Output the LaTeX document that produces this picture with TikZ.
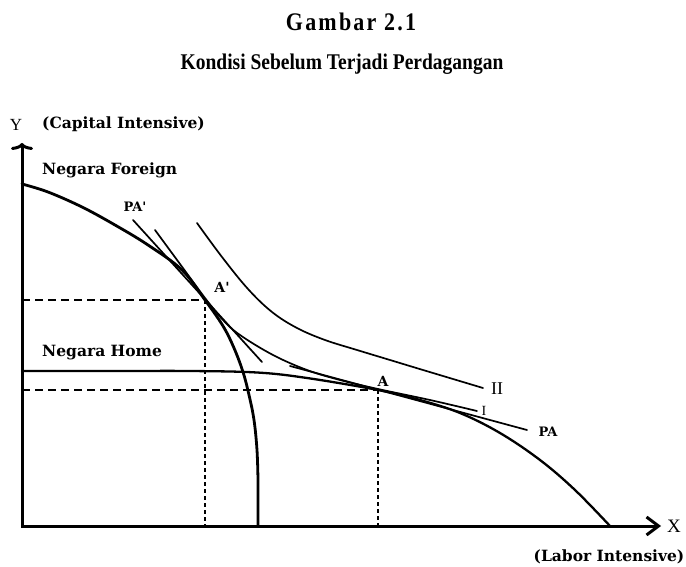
\documentclass[tikz,border=0pt]{standalone}
\usepackage{fontspec}
\setmainfont{Liberation Serif}
\newfontfamily\lblfont{DejaVu Serif}
\usetikzlibrary{arrows.meta}
\begin{document}
\begin{tikzpicture}[x=1pt,y=-1pt,
  curve/.style={line width=1.7pt, line cap=round},
  ppf/.style={line width=2.8pt, line cap=round},
  axis/.style={line width=3pt},
  hdash/.style={line width=1.5pt, dash pattern=on 8pt off 5pt},
  vdash/.style={line width=1.6pt, dash pattern=on 4pt off 3pt},
  lbl/.style={font=\lblfont\bfseries\fontsize{15.5}{18}\selectfont, inner sep=0pt},
  roman/.style={font=\fontsize{17}{20}\selectfont, inner sep=0pt},
  ttl/.style={font=\bfseries\fontsize{19.5}{24}\selectfont, inner sep=0pt}]
\useasboundingbox (0,0) rectangle (686,567);

% titles
\node[ttl, font=\bfseries\fontsize{22}{24}\selectfont\addfontfeature{LetterSpace=10}] (t1) at (351,22) {\scalebox{1}[1.15]{Gambar 2.1}};
\node[ttl] (t2) at (342,64) {\scalebox{1}[1.15]{Kondisi Sebelum Terjadi Perdagangan}};

% key points
\coordinate (O) at (22,526);
\coordinate (Ytop) at (22,143);
\coordinate (Xend) at (661,526);
\coordinate (Ap) at (205,300);
\coordinate (A) at (378,390);

% dashed guides
\draw[hdash] (O |- Ap) -- (Ap);
\draw[vdash] (Ap) -- (Ap |- O);
\draw[hdash] (O |- A) -- (A);
\draw[vdash] (A) -- (A |- O);

% axes
\draw[axis, {To[length=7pt,width=22pt]}-{Straight Barb[length=12pt,width=18pt]}] (Ytop) -- (O) -- (Xend);

% Foreign PPF
\draw[ppf] plot[smooth, tension=0.6] coordinates {(22,184) (48,192) (82,207) (115,225) (148,245) (182,270) (205,300) (223,326) (234,348) (243,372) (249,395) (254,420) (257,450) (258,480)} -- (258,526);

% Home PPF
\draw[ppf, line width=2.3pt] plot[smooth, tension=0.6] coordinates {(22,371) (120,371) (190,371) (257,372.5) (307,378) (378,390) (420,400) (460,413) (500,433) (540,460) (575,490) (610,526)};

% indifference curve I
\draw[curve] plot[smooth, tension=0.6] coordinates {(155,230) (180,264) (205,298) (223,320) (240,335) (273,355) (307,370) (340,380) (378,389) (430,400) (477,411)};

% indifference curve II
\draw[curve] plot[smooth, tension=0.6] coordinates {(197,223) (222,257) (248,289) (272,312) (297,328) (325,340) (357,350) (390,360) (423,370) (483,388)};

% price lines
\coordinate (PAps) at (133,220);
\coordinate (PApe) at (262,362);
\draw[curve] (PAps) -- (PApe);
\coordinate (PAs) at (290,366);
\coordinate (PAe) at (527,430);
\draw[curve] (PAs) -- (PAe);

% labels
\node[roman] (ylab) at (16,125) {Y};
\node[lbl, anchor=west] (ycap) at (42,124) {(Capital Intensive)};
\node[lbl, anchor=west] (nf) at (42,170) {Negara Foreign};
\node[lbl, anchor=west] (nh) at (42,353) {Negara Home};
\node[lbl, font=\lblfont\bfseries\fontsize{13}{15}\selectfont] (lpap) at (135,207) {PA'};
\node[lbl, font=\lblfont\bfseries\fontsize{14}{16}\selectfont] (lap) at (222,287) {A'};
\node[lbl, font=\lblfont\bfseries\fontsize{14}{16}\selectfont] (la) at (383,381) {A};
\node[roman, font=\fontsize{18}{20}\selectfont] (lII) at (497,389) {II};
\node[roman, font=\fontsize{14}{16}\selectfont] (lI) at (484,411) {I};
\node[lbl, font=\lblfont\bfseries\fontsize{13}{15}\selectfont] (lpa) at (548,432) {PA};
\node[roman, font=\fontsize{19}{22}\selectfont] (xlab) at (674,526) {X};
\node[lbl] (xcap) at (609,557) {(Labor Intensive)};
\end{tikzpicture}
\end{document}
